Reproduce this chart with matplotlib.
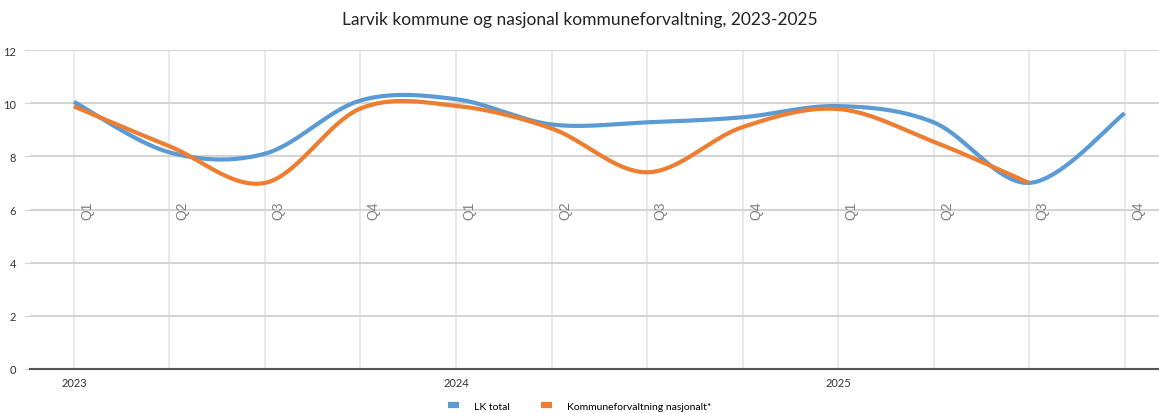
import numpy as np
import matplotlib.pyplot as plt
from matplotlib.lines import Line2D

quarters = ['Q1', 'Q2', 'Q3', 'Q4'] * 3
years = ['2023', '2024', '2025']
lk_total = [10.05, 8.15, 8.1, 10.1, 10.15, 9.2, 9.28, 9.47, 9.89, 9.28, 7.0, 9.62]
nasjonalt = [9.88, 8.38, 7.0, 9.8, 9.9, 9.05, 7.4, 9.1, 9.78, 8.55, 7.0]


def smooth(y, n=40):
	# excel-like smoothed line (cardinal bezier through the points)
	y = np.asarray(y, dtype=float)
	x = np.arange(len(y), dtype=float)
	pts = np.column_stack([x, y])
	out = []
	for i in range(len(pts) - 1):
		p0 = pts[max(i - 1, 0)]
		p1 = pts[i]
		p2 = pts[i + 1]
		p3 = pts[min(i + 2, len(pts) - 1)]
		c1 = p1 + (p2 - p0) / 6.
		c2 = p2 - (p3 - p1) / 6.
		t = np.linspace(0, 1, n)[:, None]
		seg = (1 - t)**3 * p1 + 3 * (1 - t)**2 * t * c1 + 3 * (1 - t) * t**2 * c2 + t**3 * p2
		out.append(seg if i == 0 else seg[1:])
	out = np.vstack(out)
	return out[:, 0], out[:, 1]


plt.rcParams['font.family'] = ['Lato', 'DejaVu Sans']

fig = plt.figure(figsize=(11.59, 4.14), dpi=100)
ax = fig.add_axes([30/1159, 1 - 370/414, 1 - 30/1159, (370 - 51)/414])

for i in range(len(quarters)):
	ax.axvline(i, color='#e6e6e6', lw=1.2, zorder=0)
for v in range(2, 13, 2):
	ax.axhline(v, color='#d4d4d4', lw=1.5, zorder=0)

bx, by = smooth(lk_total)
ox, oy = smooth(nasjonalt)
ax.plot(bx, by, color='#5B9BD5', lw=3, solid_capstyle='butt', zorder=3)
ax.plot(ox, oy, color='#ED7D31', lw=3, solid_capstyle='butt', zorder=4)

for i, q in enumerate(quarters):
	ax.text(i + 0.14, 6.0, q, rotation=90, ha='center', va='center', fontsize=10,
		color='#808080', family=['Liberation Sans', 'DejaVu Sans'], zorder=5)

ax.set_xlim(-0.46, 11.36)
ax.set_ylim(0, 12)
ax.set_yticks(range(0, 13, 2))
ax.set_xticks([0, 4, 8])
ax.set_xticklabels(years)
ax.tick_params(axis='y', length=4, color='#d4d4d4', labelsize=8, labelcolor='#333333', pad=6)
ax.tick_params(axis='x', length=0, labelsize=8, labelcolor='#333333', pad=6)
for s in ['top', 'right', 'left']:
	ax.spines[s].set_visible(False)
ax.spines['bottom'].set_color('#555555')
ax.spines['bottom'].set_linewidth(1.5)

fig.text(0.5, 1 - 20/414, 'Larvik kommune og nasjonal kommuneforvaltning, 2023-2025',
	ha='center', va='center', fontsize=12.5, color='#222222')

handles = [Line2D([], [], color='#5B9BD5', lw=4.5, solid_capstyle='butt'),
	Line2D([], [], color='#ED7D31', lw=4.5, solid_capstyle='butt')]
fig.legend(handles, ['LK total', 'Kommuneforvaltning nasjonalt*'], loc='center',
	bbox_to_anchor=(0.5, 1 - 407/414), ncol=2, frameon=False,
	fontsize=7.5, handlelength=1.1, columnspacing=3.0, handletextpad=1.4)

fig.savefig('out.png', dpi=100)
